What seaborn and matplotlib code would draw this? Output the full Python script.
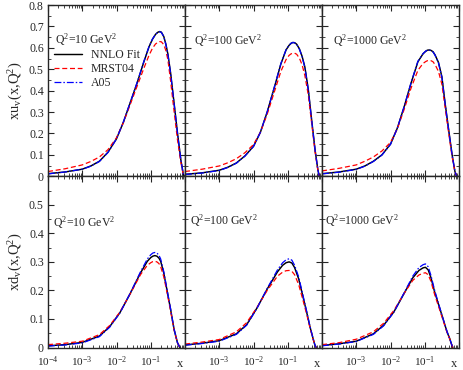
import numpy as np
import matplotlib
matplotlib.use("Agg")
import matplotlib.pyplot as plt
import seaborn as sns
from matplotlib.ticker import FixedLocator, LogLocator, NullFormatter, MultipleLocator, FixedFormatter

# ---------------- data (log10 x grid + curve values) ----------------
uv_q10_logx = [-4, -3.5, -3, -2.75, -2.5, -2.25, -2, -1.8, -1.6, -1.4, -1.2, -1.05, -0.95, -0.86, -0.79, -0.74, -0.69, -0.62, -0.56, -0.5, -0.42, -0.32, -0.22, -0.12, -0.05, -0.02]
uv_q10_nnlo = [0.012, 0.02, 0.033, 0.048, 0.07, 0.112, 0.175, 0.252, 0.343, 0.435, 0.535, 0.605, 0.64, 0.663, 0.673, 0.676, 0.673, 0.653, 0.618, 0.571, 0.482, 0.343, 0.203, 0.075, 0.01, 0.0]
uv_q10_mrst = [0.022, 0.035, 0.053, 0.069, 0.09, 0.124, 0.18, 0.25, 0.335, 0.42, 0.505, 0.565, 0.598, 0.618, 0.626, 0.629, 0.628, 0.615, 0.588, 0.545, 0.445, 0.305, 0.171, 0.064, 0.008, 0.0]
uv_q10_a05 = [0.011, 0.02, 0.033, 0.047, 0.069, 0.111, 0.175, 0.253, 0.345, 0.437, 0.537, 0.606, 0.641, 0.663, 0.673, 0.675, 0.672, 0.652, 0.616, 0.569, 0.48, 0.342, 0.202, 0.075, 0.01, 0.0]

uv_q100_logx = [-4, -3.5, -3, -2.75, -2.5, -2.25, -2, -1.8, -1.6, -1.4, -1.2, -1.05, -0.96, -0.9, -0.85, -0.8, -0.74, -0.66, -0.58, -0.5, -0.4, -0.3, -0.2, -0.12, -0.08]
uv_q100_nnlo = [0.009, 0.016, 0.028, 0.042, 0.062, 0.095, 0.14, 0.205, 0.30, 0.41, 0.525, 0.59, 0.612, 0.621, 0.625, 0.624, 0.617, 0.595, 0.56, 0.51, 0.405, 0.26, 0.12, 0.03, 0.0]
uv_q100_mrst = [0.022, 0.033, 0.048, 0.063, 0.082, 0.11, 0.148, 0.205, 0.29, 0.39, 0.49, 0.545, 0.565, 0.572, 0.575, 0.575, 0.57, 0.552, 0.52, 0.47, 0.38, 0.245, 0.112, 0.028, 0.0]
uv_q100_a05 = [0.008, 0.015, 0.027, 0.041, 0.061, 0.094, 0.139, 0.205, 0.301, 0.412, 0.527, 0.591, 0.613, 0.622, 0.625, 0.623, 0.616, 0.594, 0.558, 0.508, 0.403, 0.258, 0.119, 0.03, 0.0]

uv_q1000_logx = [-4, -3.5, -3, -2.75, -2.5, -2.25, -2, -1.8, -1.6, -1.4, -1.2, -1.05, -0.97, -0.92, -0.87, -0.82, -0.76, -0.7, -0.6, -0.5, -0.4, -0.3, -0.2, -0.12, -0.07]
uv_q1000_nnlo = [0.012, 0.02, 0.033, 0.048, 0.07, 0.1, 0.15, 0.225, 0.325, 0.435, 0.535, 0.572, 0.584, 0.589, 0.59, 0.588, 0.582, 0.567, 0.532, 0.465, 0.334, 0.215, 0.099, 0.023, 0.0]
uv_q1000_mrst = [0.025, 0.037, 0.053, 0.07, 0.09, 0.118, 0.158, 0.222, 0.313, 0.412, 0.495, 0.527, 0.536, 0.54, 0.541, 0.54, 0.535, 0.522, 0.49, 0.43, 0.315, 0.20, 0.09, 0.022, 0.0]
uv_q1000_a05 = [0.011, 0.019, 0.032, 0.047, 0.069, 0.099, 0.149, 0.225, 0.326, 0.437, 0.537, 0.573, 0.585, 0.589, 0.59, 0.587, 0.581, 0.566, 0.53, 0.463, 0.332, 0.213, 0.098, 0.023, 0.0]

dv_q10_logx = [-4, -3.5, -3, -2.5, -2.2, -1.9, -1.6, -1.3, -1.1, -1.0, -0.94, -0.88, -0.82, -0.76, -0.71, -0.62, -0.52, -0.42, -0.32, -0.22, -0.15]
dv_q10_nnlo = [0.006, 0.01, 0.018, 0.04, 0.073, 0.122, 0.189, 0.261, 0.302, 0.315, 0.32, 0.322, 0.32, 0.313, 0.302, 0.261, 0.197, 0.133, 0.064, 0.017, 0.0]
dv_q10_mrst = [0.01, 0.015, 0.022, 0.045, 0.077, 0.124, 0.188, 0.255, 0.288, 0.297, 0.301, 0.302, 0.30, 0.294, 0.283, 0.248, 0.19, 0.128, 0.062, 0.016, 0.0]
dv_q10_a05 = [0.005, 0.009, 0.016, 0.038, 0.071, 0.121, 0.19, 0.265, 0.31, 0.325, 0.331, 0.333, 0.331, 0.323, 0.31, 0.266, 0.20, 0.135, 0.065, 0.017, 0.0]

dv_q100_logx = [-4, -3.5, -3, -2.5, -2.2, -1.9, -1.6, -1.3, -1.15, -1.05, -0.96, -0.88, -0.8, -0.68, -0.56, -0.45, -0.35, -0.26, -0.21, -0.17]
dv_q100_nnlo = [0.009, 0.015, 0.024, 0.048, 0.08, 0.138, 0.205, 0.265, 0.288, 0.297, 0.30, 0.296, 0.28, 0.24, 0.18, 0.125, 0.072, 0.031, 0.01, 0.0]
dv_q100_mrst = [0.012, 0.019, 0.028, 0.055, 0.087, 0.14, 0.20, 0.25, 0.264, 0.269, 0.27, 0.267, 0.255, 0.22, 0.168, 0.118, 0.069, 0.03, 0.01, 0.0]
dv_q100_a05 = [0.008, 0.014, 0.022, 0.046, 0.078, 0.137, 0.207, 0.272, 0.297, 0.307, 0.311, 0.306, 0.288, 0.247, 0.185, 0.128, 0.074, 0.031, 0.01, 0.0]

dv_q1000_logx = [-4, -3.5, -3, -2.5, -2.2, -1.9, -1.6, -1.35, -1.17, -1.05, -0.98, -0.9, -0.82, -0.71, -0.6, -0.45, -0.35, -0.27, -0.22, -0.18]
dv_q1000_nnlo = [0.007, 0.013, 0.022, 0.048, 0.078, 0.125, 0.19, 0.244, 0.27, 0.279, 0.281, 0.272, 0.245, 0.194, 0.152, 0.094, 0.055, 0.031, 0.012, 0.0]
dv_q1000_mrst = [0.01, 0.017, 0.029, 0.055, 0.085, 0.13, 0.19, 0.235, 0.254, 0.26, 0.262, 0.255, 0.232, 0.185, 0.145, 0.09, 0.053, 0.03, 0.012, 0.0]
dv_q1000_a05 = [0.006, 0.012, 0.021, 0.046, 0.076, 0.124, 0.192, 0.25, 0.28, 0.29, 0.293, 0.283, 0.253, 0.20, 0.155, 0.095, 0.056, 0.031, 0.012, 0.0]

q2_labels = ["10", "100", "1000"]
series_names = ["NNLO Fit", "MRST04", "A05"]
row_ylabels = [r"xu$_{\rm v}$(x,Q$^{2}$)", r"xd$_{\rm v}$(x,Q$^{2}$)"]
xtick_vals = [1e-4, 1e-3, 1e-2, 1e-1]
xtick_labels = [r"10$^{-4}$", r"10$^{-3}$", r"10$^{-2}$", r"10$^{-1}$"]

panels = [
    [(uv_q10_logx, uv_q10_nnlo, uv_q10_mrst, uv_q10_a05),
     (uv_q100_logx, uv_q100_nnlo, uv_q100_mrst, uv_q100_a05),
     (uv_q1000_logx, uv_q1000_nnlo, uv_q1000_mrst, uv_q1000_a05)],
    [(dv_q10_logx, dv_q10_nnlo, dv_q10_mrst, dv_q10_a05),
     (dv_q100_logx, dv_q100_nnlo, dv_q100_mrst, dv_q100_a05),
     (dv_q1000_logx, dv_q1000_nnlo, dv_q1000_mrst, dv_q1000_a05)],
]

# ---------------- style ----------------
sns.set_style("ticks")
plt.rcParams["font.family"] = ["Liberation Serif", "DejaVu Serif"]
plt.rcParams["mathtext.fontset"] = "custom"
plt.rcParams["mathtext.rm"] = "Liberation Serif"
plt.rcParams["mathtext.it"] = "Liberation Serif:italic"
plt.rcParams["mathtext.default"] = "rm"

styles = [
    dict(color="black", linewidth=1.05, linestyle="-"),
    dict(color="#ff0000", linewidth=0.9, linestyle=(0, (4.0, 2.2))),
    dict(color="#0000ff", linewidth=0.9, linestyle=(0, (5.5, 1.6, 1.2, 1.6))),
]

fig, axes = plt.subplots(2, 3, figsize=(4.63, 3.70), dpi=100)
fig.subplots_adjust(left=48 / 463, right=459 / 463, top=1 - 5 / 370, bottom=1 - 347.5 / 370,
                    wspace=0, hspace=0)

ylims = [0.8, 0.6]
for r in range(2):
    for c in range(3):
        ax = axes[r, c]
        logx, *curves = panels[r][c]
        xv = 10 ** np.array(logx)
        for yv, st, nm in zip(curves, styles, series_names):
            sns.lineplot(x=xv, y=yv, ax=ax, sort=False, label=nm, **st)
        ax.set_xscale("log")
        ax.set_xlim(1e-4, 1.0)
        ax.set_ylim(0, ylims[r])
        ax.yaxis.set_major_locator(MultipleLocator(0.1))
        ax.yaxis.set_minor_locator(MultipleLocator(0.05))
        ax.xaxis.set_major_locator(FixedLocator(xtick_vals + [1.0]))
        ax.xaxis.set_minor_locator(LogLocator(base=10, subs=np.arange(2, 10)))
        ax.xaxis.set_minor_formatter(NullFormatter())
        ax.tick_params(which="both", direction="in", top=True, right=True)
        ax.tick_params(axis="y", pad=3, labelsize=8.5)
        ax.tick_params(axis="x", pad=5.0, labelsize=8.2)
        ax.tick_params(which="major", length=4.5, width=0.8)
        ax.tick_params(which="minor", length=2.2, width=0.6)
        for sp in ax.spines.values():
            sp.set_linewidth(1.0)
        if ax.get_legend() is not None:
            ax.get_legend().remove()
        ax.set_xlabel("")
        ax.set_ylabel("")

        # y labels
        if c == 0:
            ticks = np.round(np.arange(0, ylims[r] + 0.001, 0.1), 1)
            labs = ["0"] + [f"{t:.1f}" for t in ticks[1:]]
            if r == 1:
                labs[-1] = ""
            ax.yaxis.set_major_locator(FixedLocator(ticks))
            ax.yaxis.set_major_formatter(FixedFormatter(labs))
            ax.set_ylabel(row_ylabels[r], fontsize=10.5, labelpad=3)
        else:
            ax.tick_params(labelleft=False)

        # x labels
        if r == 1:
            labs = list(xtick_labels) + [""]
            if c > 0:
                labs[0] = ""
            ax.xaxis.set_major_formatter(FixedFormatter(labs))
            ax.annotate("x", xy=(0.7, 0), xycoords=("data", "axes fraction"),
                        xytext=(0, -7.3), textcoords="offset points",
                        ha="center", va="top", fontsize=9)
        else:
            ax.tick_params(labelbottom=False)

        # Q2 annotation
        txt = r"Q$^2$=" + q2_labels[c] + r" GeV$^2$"
        if r == 0:
            pos = [(0.05, 0.80), (0.065, 0.79), (0.08, 0.79)][c]
        else:
            pos = [(0.04, 0.73), (0.04, 0.74), (0.025, 0.74)][c]
        ax.text(pos[0], pos[1], txt, transform=ax.transAxes, fontsize=8.5,
                ha="left", va="center")

# legend in first panel
h, l = axes[0, 0].get_legend_handles_labels()
axes[0, 0].legend(h, l, loc="upper left", bbox_to_anchor=(0.03, 0.755), frameon=False,
                  fontsize=8.5, handlelength=2.3, handletextpad=0.8, labelspacing=0.15,
                  borderaxespad=0.0, borderpad=0.2)

fig.savefig("out.png", dpi=100)
